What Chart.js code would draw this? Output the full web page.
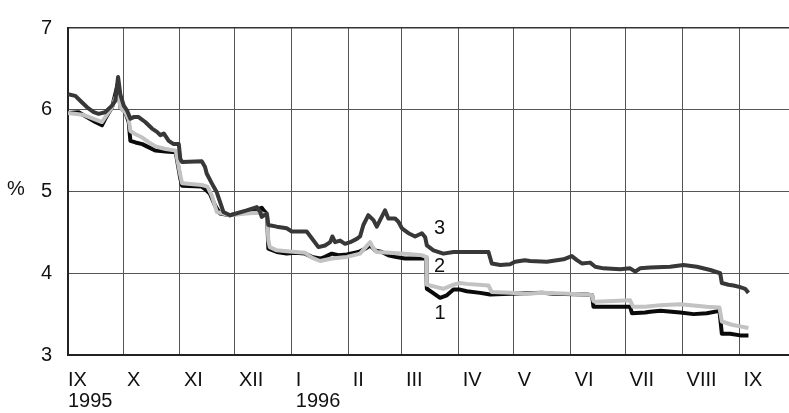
<!DOCTYPE html>
<html>
<head>
<meta charset="utf-8">
<script src="https://cdn.jsdelivr.net/npm/chart.js@4.4.1/dist/chart.umd.min.js"></script>
<style>
  html, body { margin: 0; padding: 0; background: #fff; }
</style>
</head>
<body>
<canvas id="chart" width="789" height="413"></canvas>
<script>
// jours comptés depuis le 1er septembre 1995
const monthDays = [0, 30, 61, 91, 122, 153, 182, 213, 243, 274, 304, 335, 366];
const monthLabels = [['IX', '1995'], 'X', 'XI', 'XII', ['I', '1996'], 'II', 'III', 'IV', 'V', 'VI', 'VII', 'VIII', 'IX'];
const yTicks = [3, 4, 5, 6, 7];

// série 1 (noire)
const days1 = [0,5.8,14.9,18.5,20.3,24,27.3,28.5,31.2,33.1,34,36.8,40.5,44.1,47.8,53.2,58.7,61.2,62.2,72.9,74.7,77.4,80.1,82.9,88.3,95,100,103,105.6,107,108.5,109.2,113.8,119.2,123.8,129.2,132.9,137.4,140.1,143.8,147.4,152,158.3,161.9,164.7,167.4,171,174.6,178.3,183.7,195.2,195.6,198.3,202.8,206.5,210.1,213.7,217.4,224.6,230.1,241,259,264.5,282.8,285.7,286.4,291.9,306.4,307.4,314.6,317.3,322.9,333.7,341,348.2,355.1,356.4,360.9,366.4,370.9];
const values1 = [5.96,5.97,5.85,5.81,5.89,6.03,6.33,6.03,5.97,5.85,5.62,5.60,5.58,5.54,5.50,5.49,5.48,5.16,5.07,5.06,5.03,4.97,4.83,4.73,4.71,4.74,4.76,4.78,4.80,4.76,4.72,4.30,4.26,4.24,4.25,4.24,4.20,4.18,4.20,4.24,4.22,4.23,4.26,4.30,4.34,4.28,4.26,4.22,4.20,4.18,4.18,3.81,3.77,3.70,3.73,3.80,3.80,3.78,3.76,3.74,3.75,3.76,3.75,3.74,3.73,3.59,3.59,3.59,3.51,3.52,3.53,3.54,3.52,3.50,3.51,3.54,3.26,3.26,3.24,3.24];

// série 2 (gris clair)
const days2 = [0,8,15,18.5,20.3,24,27.3,28.5,31.2,33.1,34,36.8,40.5,44.1,47.8,53.2,58.7,61.2,62.2,72.9,76,78.4,81.1,88.3,97,103,108.5,109.2,110,113.8,119.2,129.2,132.9,137.4,143.8,152,159.2,164.7,166.5,168.3,175,183.7,192.9,195.2,195.6,201,204.6,210.1,213.7,217.4,229.2,231,241,249.2,259,282.8,285.7,286.4,287.4,306.4,308,314.6,322.9,333.7,348.2,355.1,356.4,361.8,366.4,370.9];
const values2 = [5.96,5.94,5.88,5.85,5.91,6.03,6.25,6.03,5.97,5.88,5.74,5.70,5.66,5.60,5.55,5.52,5.50,5.20,5.10,5.08,5.06,4.95,4.75,4.71,4.73,4.74,4.72,4.40,4.32,4.28,4.27,4.25,4.19,4.15,4.18,4.20,4.24,4.38,4.30,4.26,4.25,4.24,4.22,4.20,3.86,3.83,3.81,3.86,3.88,3.87,3.85,3.77,3.76,3.75,3.76,3.74,3.73,3.66,3.65,3.67,3.59,3.59,3.61,3.62,3.59,3.58,3.41,3.37,3.35,3.33];

// série 3 (gris foncé)
const days3 = [0,4,6.7,10.4,14,16.7,20.2,24,25.8,27.3,28.5,30.4,32.2,34,35.8,38.5,42.1,45.8,48.5,50.3,52.2,54.9,57.6,60.4,61.2,62.2,72.9,74.7,75.6,78.4,81.1,82.9,84.7,88.3,97.4,102.9,104.7,105.6,108.3,109.2,113.8,119.2,122,130.1,133.2,136.5,140.1,142.9,144.1,145.6,148.3,151,153.8,157.4,159.2,161,163.7,166.5,168.3,171,172.8,174.6,178.3,180.1,182,185.6,189.2,192.9,194.7,195.6,199.2,204.6,210.1,229.2,231,235.6,241,243.7,249,251.9,261,270.1,274.6,277.4,280.1,284.6,287.4,291.9,301,306.4,309.2,311.8,317.3,328.2,335.5,342.8,350.1,355.5,356.4,360,362.8,366.4,369.1,370.9];
const values3 = [6.19,6.17,6.11,6.03,5.97,5.95,5.97,6.05,6.11,6.40,6.19,6.05,5.99,5.89,5.91,5.91,5.85,5.77,5.73,5.69,5.71,5.62,5.58,5.58,5.40,5.36,5.37,5.30,5.22,5.10,4.99,4.87,4.75,4.71,4.77,4.81,4.75,4.69,4.73,4.59,4.57,4.55,4.51,4.51,4.42,4.32,4.34,4.38,4.45,4.38,4.40,4.36,4.38,4.42,4.45,4.59,4.71,4.65,4.57,4.69,4.77,4.67,4.67,4.63,4.55,4.49,4.45,4.49,4.44,4.34,4.28,4.24,4.26,4.26,4.12,4.10,4.11,4.14,4.16,4.15,4.14,4.17,4.21,4.16,4.12,4.13,4.08,4.06,4.05,4.06,4.02,4.06,4.07,4.08,4.10,4.08,4.04,4.00,3.88,3.86,3.85,3.83,3.81,3.76];

// étiquettes des séries (jour, valeur)
const seriesNames = ['1', '2', '3'];
const seriesNameDays = [202.8, 202.5, 202.5];
const seriesNameValues = [3.51, 4.08, 4.55];

const FONT = "'Liberation Sans', Arial, sans-serif";
const TEXT = '#111';

function toPoints(days, values) {
    return days.map((d, i) => ({ x: d, y: values[i] }));
}

// petit décalage à droite des étiquettes de mois
function shiftLabel(label, index) {
    if (index === 0) return label;
    const pad = '\u2009';
    return Array.isArray(label) ? label.map(l => pad + l) : pad + label;
}

const textPlugin = {
    id: 'textPlugin',
    afterDatasetsDraw(chart) {
        const ctx = chart.ctx;
        const xs = chart.scales.x;
        const ys = chart.scales.y;
        ctx.save();
        ctx.fillStyle = TEXT;
        ctx.font = '20px ' + FONT;
        ctx.textAlign = 'center';
        ctx.textBaseline = 'middle';
        seriesNames.forEach((name, i) => {
            ctx.fillText(name, xs.getPixelForValue(seriesNameDays[i]), ys.getPixelForValue(seriesNameValues[i]));
        });
        // unité de l'axe
        ctx.fillText('%', chart.chartArea.left - 52, ys.getPixelForValue(5) - 2);
        ctx.restore();
    }
};

const lineStyle = {
    pointRadius: 0,
    borderWidth: 4,
    tension: 0,
    borderJoinStyle: 'round',
    fill: false
};

new Chart(document.getElementById('chart'), {
    type: 'line',
    data: {
        datasets: [
            Object.assign({ label: '3', data: toPoints(days3, values3), borderColor: '#383838', order: 1 }, lineStyle),
            Object.assign({ label: '2', data: toPoints(days2, values2), borderColor: '#c2c2c2', order: 2 }, lineStyle),
            Object.assign({ label: '1', data: toPoints(days1, values1), borderColor: '#0a0a0a', order: 3 }, lineStyle)
        ]
    },
    options: {
        responsive: false,
        animation: false,
        devicePixelRatio: 1,
        layout: { padding: { top: 16, right: 0, left: 0, bottom: 0 } },
        plugins: {
            legend: { display: false },
            tooltip: { enabled: false }
        },
        scales: {
            x: {
                type: 'linear',
                min: 0,
                max: 393,
                afterBuildTicks: scale => {
                    scale.ticks = monthDays.map(v => ({ value: v }));
                },
                afterFit: scale => { scale.height = 58; },
                ticks: {
                    autoSkip: false,
                    maxRotation: 0,
                    align: 'start',
                    padding: 15,
                    color: TEXT,
                    font: { family: FONT, size: 20, lineHeight: 1.05 },
                    callback: (value, index) => shiftLabel(monthLabels[index], index)
                },
                grid: { color: '#555', lineWidth: 1, drawTicks: false },
                border: { display: true, color: '#222', width: 2 }
            },
            y: {
                min: 3,
                max: 7,
                afterBuildTicks: scale => {
                    scale.ticks = yTicks.map(v => ({ value: v }));
                },
                afterFit: scale => { scale.width = 68; },
                ticks: {
                    padding: 16,
                    color: TEXT,
                    font: { family: FONT, size: 20 },
                    callback: value => String(value)
                },
                grid: {
                    color: c => (c.tick && c.tick.value === 7) ? '#333' : '#555',
                    lineWidth: c => (c.tick && c.tick.value === 7) ? 1.5 : 1,
                    drawTicks: false
                },
                border: { display: true, color: '#222', width: 2 }
            }
        }
    },
    plugins: [textPlugin]
});
</script>
</body>
</html>
